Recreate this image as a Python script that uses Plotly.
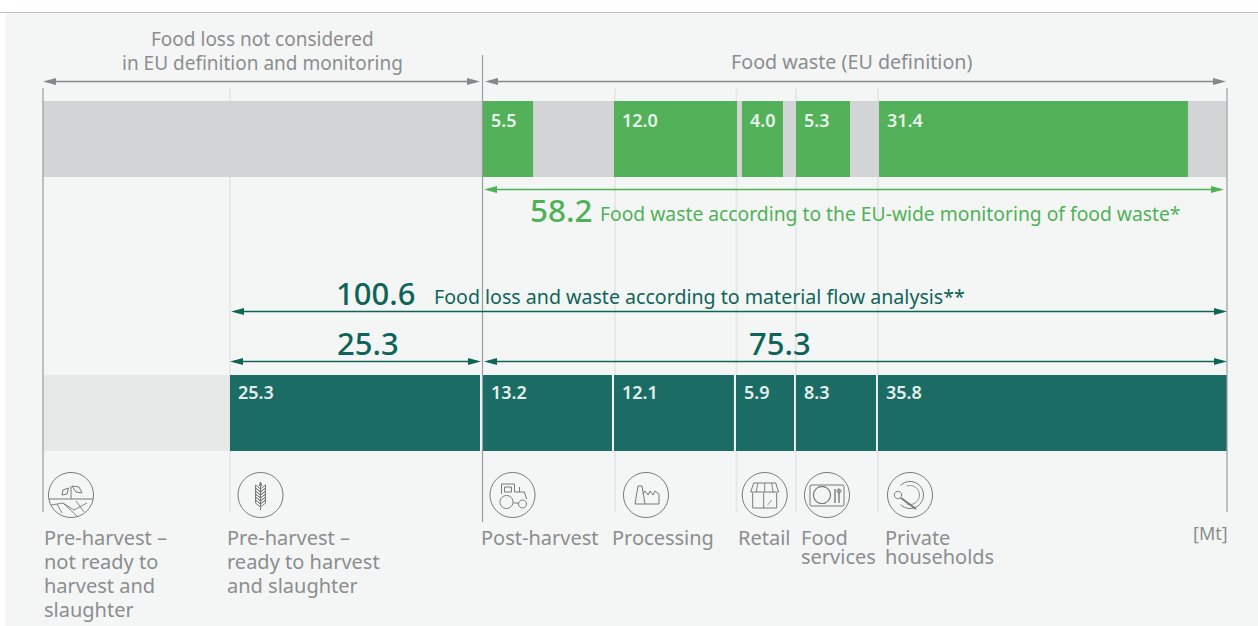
import math
import plotly.graph_objects as go

stages = ["Pre-harvest – not ready", "Pre-harvest – ready", "Post-harvest", "Processing", "Retail", "Food services", "Private households"]

# Upper band: food waste (EU definition), Mt
eu_values = [5.5, 12.0, 4.0, 5.3, 31.4]
eu_labels = ["5.5", "12.0", "4.0", "5.3", "31.4"]
eu_starts = [44.31, 57.50, 70.39, 75.83, 84.19]
eu_lengths = [5.04, 12.39, 4.13, 5.44, 31.12]

# Lower band: material flow analysis, Mt
mfa_values = [25.3, 13.2, 12.1, 5.9, 8.3, 35.8]
mfa_labels = ["25.3", "13.2", "12.1", "5.9", "8.3", "35.8"]
mfa_starts = [18.83, 44.31, 57.50, 69.79, 75.83, 84.09]
mfa_lengths = [25.18, 12.99, 12.08, 5.84, 8.06, 35.15]

scale_total = 119.2
not_considered_end = 18.83

PX = 9.93
X0 = 43
W, H = 1258, 626
FONT = "Noto Sans"
GREY_T = "#8b8d8f"
GREY_A = "#85878a"
GREEN = "#52b159"
GREEN_T = "#4fb257"
DARK = "#1c6c66"
DARK_T = "#0f6459"
PANEL = "#f4f6f5"
LIGHT = "#e6e8e7"
ICON = "#77797b"


def mx(p):
    return (p - X0) / PX


shapes = []
annotations = []


def rect(x0, y0, x1, y1, fill, layer="below"):
    shapes.append(dict(type="rect", xref="x", yref="y", x0=mx(x0), x1=mx(x1), y0=y0, y1=y1,
                       fillcolor=fill, line_width=0, layer=layer))


def vline(x, y0, y1, color, w=1.3, layer="below"):
    shapes.append(dict(type="line", xref="x", yref="y", x0=mx(x), x1=mx(x), y0=y0, y1=y1,
                       line=dict(color=color, width=w), layer=layer))


def poly(points, color=None, w=1.0, fill=None, close=False):
    d = "M" + " L".join(f"{mx(x):.4f},{y:.2f}" for x, y in points) + (" Z" if close else "")
    s = dict(type="path", xref="x", yref="y", path=d, layer="above",
             line=dict(color=color or "rgba(0,0,0,0)", width=w if color else 0))
    if fill:
        s["fillcolor"] = fill
    shapes.append(s)


def arrow(x0, x1, y, color, lw=1.6, hl=13, hh=3.6):
    poly([(x0 + 4, y), (x1 - 4, y)], color, lw)
    poly([(x0, y), (x0 + hl, y - hh), (x0 + hl, y + hh)], fill=color, close=True)
    poly([(x1, y), (x1 - hl, y - hh), (x1 - hl, y + hh)], fill=color, close=True)


def text(s, x, y, size, color, anchor="left", weight=400):
    dx = {"left": -2, "right": 2, "center": 0}[anchor]
    annotations.append(dict(text=s, x=mx(x + dx), y=y - 1, xref="x", yref="y", showarrow=False,
                            xanchor=anchor, yanchor="middle", align=anchor,
                            font=dict(family=FONT, size=size, color=color, weight=weight)))


def circ(cx, cy, r, color=ICON, w=1.0, n=48):
    pts = [(cx + r * math.cos(2 * math.pi * i / n), cy + r * math.sin(2 * math.pi * i / n)) for i in range(n)]
    poly(pts, color, w, close=True)


# panel
rect(5.5, 13, W, H, PANEL)
poly([(0, 12.5), (W, 12.5)], "#bfc1c0", 1.2)

# guide lines
for x in [230, 615, 736.5, 796, 878]:
    vline(x, 88, 512, LIGHT, 2)
for x, y0, y1 in [(43, 88, 512), (482.5, 55, 522), (1227, 88, 512)]:
    vline(x, y0, y1, "#9a9c9e", 1.2, "above")

fig = go.Figure()
fig.add_trace(go.Bar(orientation="h", y=[139], x=[scale_total], base=[0], width=[76],
                     marker=dict(color="#d3d4d6", line_width=0), hoverinfo="skip", name="Total scale"))
fig.add_trace(go.Bar(orientation="h", y=[413], x=[not_considered_end], base=[0], width=[76],
                     marker=dict(color="#e7e8e8", line_width=0), hoverinfo="skip", name="Not considered"))
fig.add_trace(go.Bar(orientation="h", y=[139] * len(eu_values), x=eu_lengths, base=eu_starts,
                     width=[76] * len(eu_values), marker=dict(color=GREEN, line_width=0),
                     customdata=eu_values, name="EU monitoring"))
fig.add_trace(go.Bar(orientation="h", y=[413] * len(mfa_values), x=mfa_lengths, base=mfa_starts,
                     width=[76] * len(mfa_values), marker=dict(color=DARK, line_width=0),
                     customdata=mfa_values, name="Material flow"))

# bar value labels
for lab, st in zip(eu_labels, eu_starts):
    annotations.append(dict(text=lab, x=st + 0.62, y=120, xref="x", yref="y", showarrow=False,
                            xanchor="left", yanchor="middle",
                            font=dict(family=FONT, size=18, color="#e9f2ea", weight=600)))
for lab, st in zip(mfa_labels, mfa_starts):
    annotations.append(dict(text=lab, x=st + 0.62, y=392, xref="x", yref="y", showarrow=False,
                            xanchor="left", yanchor="middle",
                            font=dict(family=FONT, size=18, color="#e4eeeb", weight=600)))

# arrows
arrow(43, 480, 81.5, GREY_A)
arrow(485, 1226, 81.5, GREY_A)
arrow(484, 1224, 189.5, GREEN_T)
arrow(231, 1227, 311.5, DARK_T)
arrow(230, 481, 361.5, DARK_T)
arrow(484, 1227, 361.5, DARK_T)

# header text
text("Food loss not considered", 262, 40, 19, GREY_T, "center")
text("in EU definition and monitoring", 262, 64, 19, GREY_T, "center")
text("Food waste (EU definition)", 851, 62, 19.7, GREY_T, "center")

# totals
text("58.2", 530, 210, 31.5, GREEN_T, weight=500)
text("Food waste according to the EU-wide monitoring of food waste*", 600, 214, 19.3, GREEN_T)
text("100.6", 336, 294, 31, DARK_T, weight=500)
text("Food loss and waste according to material flow analysis**", 434, 297, 19.6, DARK_T)
text("25.3", 368, 344, 31, DARK_T, "center", weight=500)
text("75.3", 780, 344, 31, DARK_T, "center", weight=500)

# stage labels
for s, x, y in [("Pre-harvest –", 44, 538), ("not ready to", 44, 562), ("harvest and", 44, 586), ("slaughter", 44, 610),
                ("Pre-harvest –", 227, 538), ("ready to harvest", 227, 562), ("and slaughter", 227, 586),
                ("Post-harvest", 481, 538), ("Processing", 612, 538), ("Retail", 738, 538),
                ("Food", 801, 538), ("services", 801, 557),
                ("Private", 885, 538), ("households", 885, 557)]:
    text(s, x, y, 20, GREY_T)
text("[Mt]", 1228, 534, 18, GREY_T, "right")

# icons: ring outlines and simple line drawings
cy = 495
# seedling and field
c = 71
circ(c, cy, 22.5)
poly([(c - 22, cy + 4), (c + 22, cy + 4)], ICON, 1)
poly([(c, cy + 4), (c, cy - 9)], ICON, 1)
poly([(c - 2.5, cy - 7), (c - 8, cy - 5), (c - 9, cy), (c - 4, cy - 1), (c - 2.5, cy - 7)], ICON, 1)
poly([(c + 1, cy - 9), (c + 8, cy - 8), (c + 11, cy - 2), (c + 5, cy - 3), (c + 1, cy - 9)], ICON, 1)
poly([(c - 20, cy + 10), (c - 8, cy + 8), (c + 3, cy + 15), (c + 16, cy + 8)], ICON, 0.9)
poly([(c - 8, cy + 8), (c + 6, cy + 21)], ICON, 0.9)
poly([(c - 14, cy + 9), (c - 9, cy + 18)], ICON, 0.9)
poly([(c + 5, cy + 6), (c + 13, cy + 17)], ICON, 0.9)
# wheat
c = 260.5
circ(c, cy, 22.5)
poly([(c, cy - 13), (c, cy + 15)], ICON, 1)
poly([(c - 1.5, cy - 9), (c, cy - 13), (c + 1.5, cy - 9)], ICON, 1)
for dy in range(-7, 11, 3):
    poly([(c, cy + dy + 4), (c - 5, cy + dy), (c - 5, cy + dy - 3), (c, cy + dy + 1)], ICON, 1)
    poly([(c, cy + dy + 4), (c + 5, cy + dy), (c + 5, cy + dy - 3), (c, cy + dy + 1)], ICON, 1)
# tractor
c = 512.5
circ(c, cy, 22.5)
circ(c - 6, cy + 7, 6.5, n=24)
circ(c + 10, cy + 9, 4, n=20)
poly([(c - 11, cy - 1), (c - 11, cy - 11), (c + 2, cy - 11), (c + 2, cy - 3), (c + 12, cy - 3), (c + 14, cy + 4)], ICON, 1)
poly([(c - 8, cy - 8), (c - 1, cy - 8), (c - 1, cy - 3), (c - 8, cy - 3), (c - 8, cy - 8)], ICON, 1)
poly([(c + 1, cy + 8), (c + 6, cy + 8)], ICON, 1)
poly([(c + 7, cy - 3), (c + 7, cy - 8)], ICON, 1)
# factory
c = 646
circ(c, cy, 22.5)
poly([(c - 11, cy + 9), (c - 8, cy - 9), (c - 4, cy - 9), (c - 1, cy + 9), (c - 11, cy + 9)], ICON, 1)
poly([(c - 1, cy + 9), (c + 13, cy + 9), (c + 13, cy - 1), (c + 9, cy - 4), (c + 7, cy), (c + 4, cy - 4),
      (c + 2, cy), (c - 1, cy - 4), (c - 3, cy - 1)], ICON, 1)
# shop
c = 764.7
circ(c, cy, 22.5)
poly([(c - 11, cy - 12), (c + 11, cy - 12), (c + 14, cy - 3), (c - 14, cy - 3), (c - 11, cy - 12)], ICON, 1)
for dx in (-7, 0, 7):
    poly([(c + dx * 1.2, cy - 3), (c + dx, cy - 12)], ICON, 0.9)
poly([(c - 12, cy - 2), (c - 12, cy + 13), (c + 12, cy + 13), (c + 12, cy - 2)], ICON, 1)
poly([(c - 1, cy - 2), (c - 1, cy + 13)], ICON, 1)
poly([(c + 3, cy + 10), (c + 7, cy + 5)], ICON, 0.8)
# plate on tray
c = 827
circ(c, cy, 22.5)
poly([(c - 16, cy - 10), (c + 16, cy - 10), (c + 17, cy - 9), (c + 17, cy + 10), (c + 16, cy + 11), (c - 16, cy + 11),
      (c - 17, cy + 10), (c - 17, cy - 9), (c - 16, cy - 10)], ICON, 1)
circ(c - 5, cy, 8.5, w=1.2, n=28)
poly([(c + 8, cy - 6), (c + 8, cy + 8)], ICON, 1.4)
poly([(c + 12, cy - 6), (c + 12, cy + 8)], ICON, 1.4)
circ(c + 12, cy - 4, 2, n=12)
# plate and spoon
c = 910
circ(c, cy, 22.5)
arc = [(c + 13.5 * math.cos(math.radians(a)), cy + 13.5 * math.sin(math.radians(a))) for a in range(-135, 136, 10)]
poly(arc, ICON, 1)
arc2 = [(c + 9.5 * math.cos(math.radians(a)), cy + 9.5 * math.sin(math.radians(a))) for a in range(-110, 111, 10)]
poly(arc2, ICON, 0.8)
circ(c - 12, cy, 3.7, n=14)
poly([(c - 9, cy + 3), (c + 6, cy + 14)], ICON, 2)

fig.update_layout(
    width=W, height=H, autosize=False, barmode="overlay", showlegend=False,
    margin=dict(l=0, r=0, t=0, b=0), paper_bgcolor="#ffffff", plot_bgcolor="rgba(0,0,0,0)",
    xaxis=dict(range=[mx(0), mx(W)], visible=False, fixedrange=True),
    yaxis=dict(range=[H, 0], visible=False, fixedrange=True),
    shapes=shapes, annotations=annotations,
    font=dict(family=FONT),
)
fig.write_html("out.html", config={"displayModeBar": False},
               post_script="document.body.style.margin='0';document.body.style.overflow='hidden';")
